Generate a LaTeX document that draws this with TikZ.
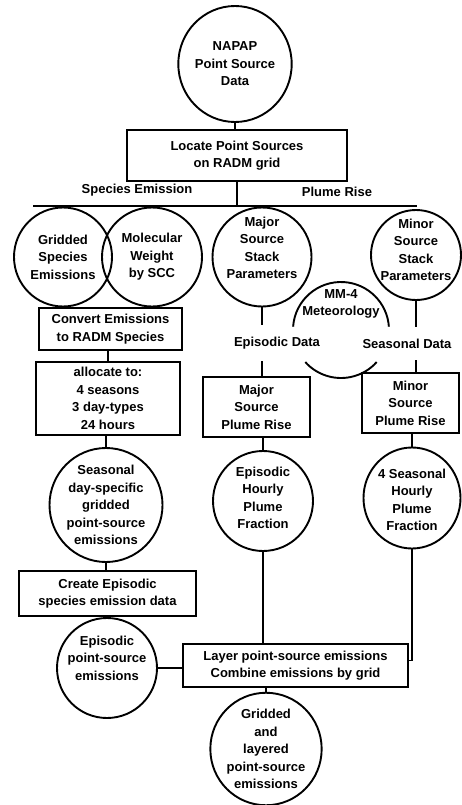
\documentclass[tikz,border=0pt]{standalone}
\usepackage{fontspec}
\setmainfont{Liberation Sans}
\usetikzlibrary{shapes.geometric}
\begin{document}
\begin{tikzpicture}[x=1pt,y=-1pt,
  lw/.style={line width=1.9pt},
  txt/.style={font=\fontsize{13}{17.5}\selectfont\bfseries, align=center, inner sep=0pt},
  bubble/.style 2 args={txt, draw, lw, ellipse, minimum width=#1, minimum height=#2},
  procbox/.style 2 args={txt, draw, lw, rectangle, minimum width=#1, minimum height=#2},
  flowlabel/.style={txt, inner xsep=2pt, inner ysep=12pt}
]
\useasboundingbox (0,0) rectangle (461,805);

% top
\node[bubble={100pt}{116pt}] (napap) at (235,64) {NAPAP\\Point Source\\Data};
\node[procbox={220pt}{51pt}] (locate) at (237,155.5) {Locate Point Sources\\on RADM grid};
\coordinate (barL) at (33,206);
\coordinate (barR) at (417,206);
\node[txt] (lblspec) at (137,190) {Species Emission};
\node[txt] (lblplume) at (337,192) {Plume Rise};

% row of circles
\node[bubble={98pt}{99pt}] (gse) at (63,257) {Gridded\\Species\\Emissions};
\node[bubble={100pt}{99pt}] (mw) at (152,257) {Molecular\\Weight\\by SCC};
\node[bubble={99pt}{99pt}] (major) at (262,257) {};
\node[txt] (majort) at (262,248) {Major\\Source\\Stack\\Parameters};
\node[bubble={90pt}{90pt}] (minor) at (416,255) {};
\node[txt] (minort) at (416,250) {Minor\\Source\\Stack\\Parameters};

% MM-4 meteorology (broken circle)
\coordinate (mm4) at (341,330);
\node[txt] (mm4t) at (341,304) {MM-4\\Meteorology};
\draw[lw] ([shift={(176:48pt)}]mm4) arc[start angle=176, end angle=4, radius=48pt];
\draw[lw] ([shift={(222:48pt)}]mm4) arc[start angle=222, end angle=318, radius=48pt];

\node[flowlabel] (epdata) at (277,343) {Episodic Data};
\node[flowlabel] (seasdata) at (407,343.5) {Seasonal Data};

% left column
\node[procbox={143pt}{42pt}] (convert) at (110.5,329) {Convert Emissions\\to RADM Species};
\node[procbox={144pt}{73pt}] (alloc) at (108,398.5) {allocate to:\\4 seasons\\3 day-types\\24 hours};
\node[bubble={113pt}{114pt}] (seasday) at (106,505) {Seasonal\\day-specific\\gridded\\point-source\\emissions};
\node[procbox={177pt}{45pt}] (create) at (107.5,593.5) {Create Episodic\\species emission data};
\node[bubble={100pt}{100pt}] (epem) at (107,668) {};
\node[txt] (epemt) at (107,658) {Episodic\\point-source\\emissions};

% middle and right columns
\node[procbox={107pt}{60pt}] (majplume) at (256.5,407) {Major\\Source\\Plume Rise};
\node[procbox={97pt}{60pt}] (minplume) at (410.5,403) {Minor\\Source\\Plume Rise};
\node[bubble={100pt}{100pt}] (ephr) at (263,501) {};
\node[txt] (ephrt) at (263,498) {Episodic\\Hourly\\Plume\\Fraction};
\node[bubble={97pt}{101pt}] (seas4) at (412,498) {};
\node[txt] (seas4t) at (412,500) {4 Seasonal\\Hourly\\Plume\\Fraction};

% bottom
\node[procbox={225pt}{43pt}] (layer) at (295.5,665.5) {Layer point-source emissions\\Combine emissions by grid};
\node[bubble={98pt}{106pt}] (glay) at (266,749) {Gridded\\and\\layered\\point-source\\emissions};

% connectors
\draw[lw] (napap.south) -- (napap.south |- locate.north);
\draw[lw] (locate.south) -- (locate.south |- barL);
\draw[lw] (barL) -- (barR);
\draw[lw] (alloc.north) -- (alloc.north |- convert.south);
\draw[lw] (seasday.north) -- (seasday.north |- alloc.south);
\draw[lw] (seasday.south) -- (seasday.south |- create.north);
\draw[lw] (epem.north) -- (epem.north |- create.south);
\draw[lw] (epem.east) -- (epem.east -| layer.west);
\draw[lw] (major.south) -- (major.south |- epdata.north);
\draw[lw] (major.south |- epdata.south) -- (major.south |- majplume.north);
\draw[lw] (ephr.north) -- (ephr.north |- majplume.south);
\draw[lw] (ephr.south) -- (ephr.south |- layer.north);
\draw[lw] (minor.south) -- (minor.south |- seasdata.north);
\draw[lw] (minor.south |- seasdata.south) -- (minor.south |- minplume.north);
\draw[lw] (seas4.north) -- (seas4.north |- minplume.south);
\draw[lw] (seas4.south) |- ([yshift=5pt]layer.east);
\draw[lw] (glay.north) -- (glay.north |- layer.south);
\end{tikzpicture}
\end{document}
